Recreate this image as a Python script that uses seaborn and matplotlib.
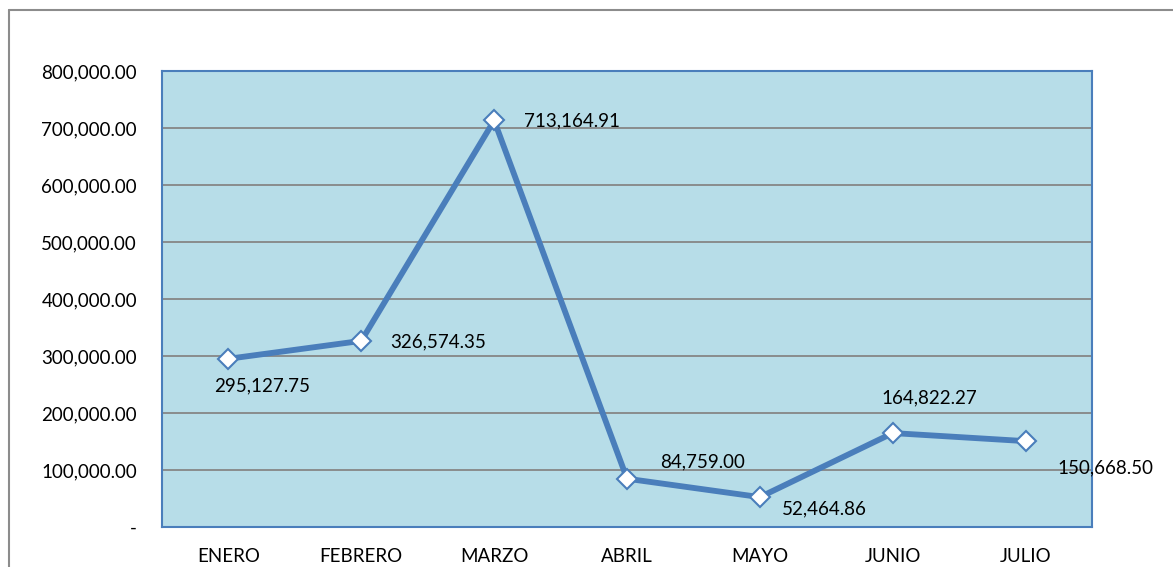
import matplotlib
matplotlib.use("Agg")
import matplotlib.pyplot as plt
import seaborn as sns
import pandas as pd
from matplotlib.lines import Line2D
from matplotlib.ticker import FuncFormatter

# Datos
meses = ["ENERO", "FEBRERO", "MARZO", "ABRIL", "MAYO", "JUNIO", "JULIO"]
montos = [295127.75, 326574.35, 713164.91, 84759.00, 52464.86, 164822.27, 150668.50]
y_ticks = [0, 100000, 200000, 300000, 400000, 500000, 600000, 700000, 800000]

# posición de cada etiqueta respecto al punto (pixeles, alineación)
etiqueta_offsets = [(34, -27, "center"), (29, -1, "left"), (30, 0, "left"),
                    (33, 17, "left"), (22, -12, "left"), (37, 35, "center"),
                    (32, -27, "left")]

df = pd.DataFrame({"mes": meses, "monto": montos})

sns.set_style("white")
plt.rcParams["font.family"] = ["Lato", "DejaVu Sans"]
fs = 13.5

fig = plt.figure(figsize=(11.73, 5.67), dpi=100)
ax = fig.add_axes([0.1381, 0.0705, 0.931 - 0.1381, 0.8748 - 0.0705])

linea = "#4A7EBB"
ax.set_facecolor("#B7DDE8")
sns.lineplot(data=df, x="mes", y="monto", ax=ax, color=linea, linewidth=4.2,
             marker="D", markersize=10, markerfacecolor="white",
             markeredgecolor=linea, markeredgewidth=1.5, sort=False)

ax.set_xlim(-0.5, len(meses) - 0.5)
ax.set_ylim(0, 800000)
ax.set_yticks(y_ticks)
ax.yaxis.set_major_formatter(FuncFormatter(lambda v, p: "-" if v == 0 else f"{v:,.2f}"))
ax.grid(axis="y", color="#868686", linewidth=1.3)
ax.set_axisbelow(True)
ax.set_xlabel("")
ax.set_ylabel("")
ax.tick_params(axis="both", length=0, labelsize=fs, colors="black")
ax.tick_params(axis="x", pad=15)
ax.tick_params(axis="y", pad=18)
for s in ax.spines.values():
    s.set_visible(True)
    s.set_color(linea)
    s.set_linewidth(1.5)

for i, (m, v) in enumerate(zip(meses, montos)):
    dx, dy, ha = etiqueta_offsets[i]
    ax.annotate(f"{v:,.2f}", (i, v), xytext=(dx, dy), textcoords="offset pixels",
                ha=ha, va="center", fontsize=fs, color="black", annotation_clip=False)

# marco exterior del gráfico
fig.add_artist(Line2D([9 / 1173, 1], [1 - 10 / 567, 1 - 10 / 567], color="#8c8c8c",
                      linewidth=1.5, transform=fig.transFigure))
fig.add_artist(Line2D([9 / 1173, 9 / 1173], [0, 1 - 10 / 567], color="#8c8c8c",
                      linewidth=1.5, transform=fig.transFigure))

fig.savefig("out.png", dpi=100)
